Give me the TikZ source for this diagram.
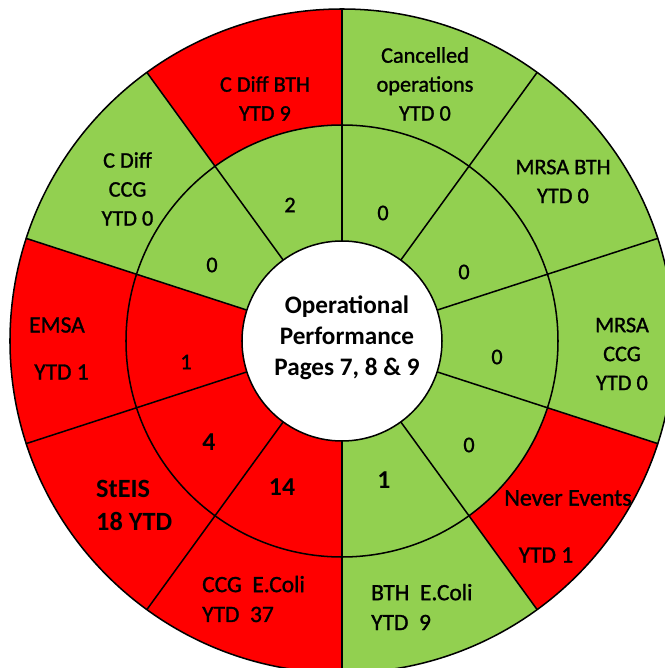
\documentclass[tikz,border=0pt]{standalone}
\usepackage{fontspec}
\setmainfont{Carlito}
\newfontfamily\heavyfont{Carlito}[FakeBold=1.2]
\usetikzlibrary{calc}
\definecolor{okgreen}{HTML}{92D050}
\definecolor{badred}{HTML}{FF0000}

\begin{document}
\begin{tikzpicture}[x=0.03cm,y=0.03cm,
    ring/.style={line width=1.3pt},
    lbl/.style={align=center,inner sep=0pt,font=\heavyfont\fontsize{19}{24.7}\selectfont},
    num/.style={inner sep=0pt,font=\heavyfont\fontsize{19}{23}\selectfont},
    bignum/.style={inner sep=0pt,font=\fontsize{22}{26}\selectfont\bfseries}]
    \useasboundingbox (-342,-327) rectangle (322,341);

    % sectors: start angle / outer colour / inner colour
    \foreach \a/\oc/\ic in {18/okgreen/okgreen, 54/okgreen/okgreen, 90/badred/okgreen,
            126/okgreen/okgreen, 162/badred/badred, 198/badred/badred, 234/badred/badred,
            270/okgreen/okgreen, 306/badred/okgreen, 342/okgreen/okgreen}{
        \fill[\oc] (\a:216) arc[start angle=\a, end angle=\a+36, radius=216]
            -- ({\a+36}:332) arc[start angle=\a+36, end angle=\a, radius=332] -- cycle;
        \fill[\ic] (\a:100) arc[start angle=\a, end angle=\a+36, radius=100]
            -- ({\a+36}:216) arc[start angle=\a+36, end angle=\a, radius=216] -- cycle;
    }
    \foreach \a in {18,54,...,342}
        \draw[ring] (\a:100) -- (\a:332);
    \draw[ring] (0,0) circle (332);
    \draw[ring] (0,0) circle (216);
    \draw[ring,fill=white] (0,0) circle (100);

    \node[align=center,inner sep=0pt,font=\fontsize{21.5}{26.5}\selectfont\bfseries] (hub) at (5,3)
        {Operational\\Performance\\Pages 7, 8 \& 9};

    % outer ring
    \node[lbl] (cancel) at (83,257) {Cancelled\\operations\\YTD 0};
    \node[lbl] (mrsabth) at (221,159.5) {MRSA BTH\\YTD 0};
    \node[lbl] (mrsaccg) at (280,-13) {MRSA\\CCG\\YTD 0};
    \node[lbl,font=\heavyfont\fontsize{20.5}{24}\selectfont] (never) at (226,-157) {Never Events};
    \node[lbl,font=\heavyfont\fontsize{20}{24}\selectfont] (neverytd) at (204,-214) {YTD 1};
    \node[lbl,align=left,anchor=west,font=\heavyfont\fontsize{20}{25.5}\selectfont] (bthecoli) at (29,-266) {BTH~~E.Coli\\YTD~~9};
    \node[lbl,align=left,anchor=west,font=\heavyfont\fontsize{20}{25.5}\selectfont] (ccgecoli) at (-140,-258) {CCG~~E.Coli\\YTD~~37};
    \node[lbl,align=left,anchor=west,font=\fontsize{22.5}{28}\selectfont\bfseries] (steis) at (-246,-164.5) {StEIS\\18 YTD};
    \node[lbl,font=\heavyfont\fontsize{20}{24}\selectfont] (emsa) at (-285,16) {EMSA};
    \node[lbl,font=\heavyfont\fontsize{20}{24}\selectfont] (emsaytd) at (-280.5,-31) {YTD 1};
    \node[lbl] (cdiffccg) at (-214.5,152) {C Diff\\CCG\\YTD 0};
    \node[lbl] (cdiffbth) at (-77,242.5) {C Diff BTH\\YTD 9};

    % inner ring
    \node[num] (n72) at (41,128) {0};
    \node[num] (n36) at (122,69) {0};
    \node[num] (n0) at (155,-16) {0};
    \node[num] (n324) at (127,-104) {0};
    \node[bignum] (n288) at (42,-139) {1};
    \node[bignum] (n252) at (-60,-146) {14};
    \node[bignum] (n216) at (-133,-101) {4};
    \node[num] (n180) at (-156,-21) {1};
    \node[num] (n144) at (-130,76) {0};
    \node[num] (n108) at (-52,136) {2};
\end{tikzpicture}
\end{document}
